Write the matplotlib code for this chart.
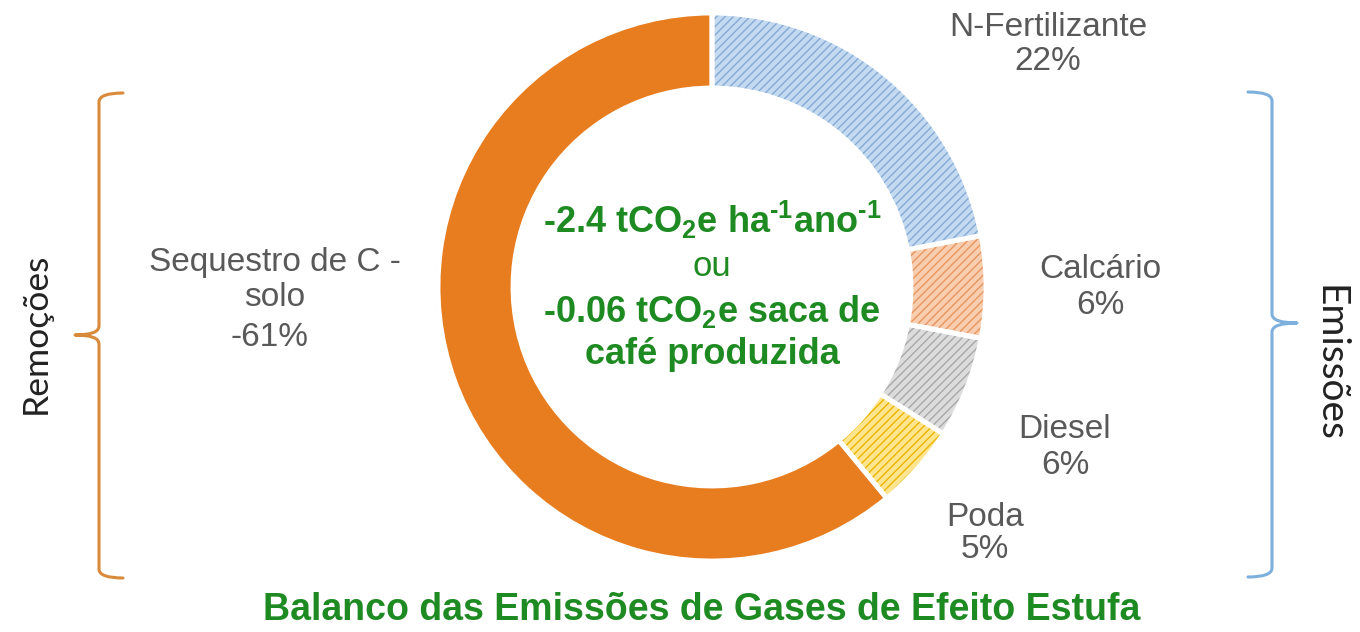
import matplotlib
matplotlib.use("Agg")
import matplotlib.pyplot as plt
from matplotlib.path import Path
from matplotlib.patches import PathPatch

# ---- data ----
categories = ["N-Fertilizante", "Calcário", "Diesel", "Poda", "Sequestro de C -\nsolo"]
shares = [22, 6, 6, 5, 61]
share_labels = ["22%", "6%", "6%", "5%", "-61%"]
center_lines = ["-2.4 tCO$_2$e ha$^{\u20101}$ano$^{\u20101}$", "ou",
                r"-0.06 tCO$_2$e saca de", "café produzida"]
title = "Balanco das Emissões de Gases de Efeito Estufa"
group_left = "Remoções"
group_right = "Emissões"

# ---- style ----
face_colors = ["#C3DAF0", "#F8CDB0", "#DCDCDC", "#FFE58F", "#E87D1F"]
hatch_colors = ["#86AAD6", "#E8965E", "#A8A8A8", "#EDB500", "#E87D1F"]
hatches = ["////", "////", "////", "////", None]
green = "#1E8A22"
grey = "#595959"

plt.rcParams["mathtext.fontset"] = "custom"
plt.rcParams["mathtext.rm"] = "Liberation Sans:bold"
plt.rcParams["mathtext.it"] = "Liberation Sans:bold"
plt.rcParams["mathtext.bf"] = "Liberation Sans:bold"
plt.rcParams["mathtext.default"] = "rm"
plt.rcParams["hatch.linewidth"] = 1.0

W, H = 1360, 632
fig = plt.figure(figsize=(13.6, 6.32), dpi=100)
ax = fig.add_axes([0, 0, 1, 1])

cx, cy, R, ring = 712, H - 287, 274, 75

wedges, _ = ax.pie(shares, startangle=90, counterclock=False, center=(cx, cy),
                   radius=R, wedgeprops=dict(width=ring, linewidth=0))
for w, fc, hc, h in zip(wedges, face_colors, hatch_colors, hatches):
    w.set_facecolor(fc)
    if h:
        w.set_hatch(h)
        w.set_edgecolor(hc)
        w.set_linewidth(0)
    else:
        w.set_edgecolor("#C77A3C")
        w.set_linewidth(2.5)

ax.pie(shares, startangle=90, counterclock=False, center=(cx, cy), radius=R,
       wedgeprops=dict(width=ring, linewidth=3.5, edgecolor="white", facecolor="none"))

ax.set_xlim(0, W)
ax.set_ylim(0, H)
ax.set_aspect("auto")
ax.axis("off")

FS = 24
# category labels (positions in image pixels)
label_pos = [(1048, 28, 62), (1100, 270, 305), (1065, 430, 465), (985, 518, 550), (275, 263, 337)]
for cat, sl, (x, y1, y2) in zip(categories, share_labels, label_pos):
    lines = cat.split("\n")
    ax.text(x, H - y1, lines[0], ha="center", va="center", fontsize=FS,
            color=grey, family="Liberation Sans")
    if len(lines) > 1:
        ax.text(x, H - 298, lines[1], ha="center", va="center", fontsize=FS,
                color=grey, family="Liberation Sans")
    ax.text(x - (5 if len(lines) > 1 else 0), H - y2, sl, ha="center", va="center",
            fontsize=FS, color=grey, family="Liberation Sans")

# centre text
for t, y in zip(center_lines, [220, 267, 311, 354]):
    if t == "ou":
        ax.text(cx, H - y, t, ha="center", va="center", fontsize=25, color=green,
                family="Liberation Sans")
    else:
        ax.text(cx, H - y, t, ha="center", va="center", fontsize=26, color=green,
                family="Liberation Sans", fontweight="bold")

# title
ax.text(702, H - 610, title, ha="center", va="center", fontsize=27, color=green,
        family="Liberation Sans", fontweight="bold")

# braces
def brace(x, x_end, x_tip, y_top, y_bot, y_mid, color):
    r = 9
    verts = [
        (x_end, y_top), (x, y_top), (x, y_top + r),
        (x, y_mid - r),
        (x, y_mid), (x_tip, y_mid),
        (x, y_mid), (x, y_mid + r),
        (x, y_bot - r),
        (x, y_bot), (x_end, y_bot),
    ]
    codes = [Path.MOVETO, Path.CURVE3, Path.CURVE3, Path.LINETO,
             Path.CURVE3, Path.CURVE3, Path.CURVE3, Path.CURVE3,
             Path.LINETO, Path.CURVE3, Path.CURVE3]
    verts = [(vx, H - vy) for vx, vy in verts]
    ax.add_patch(PathPatch(Path(verts, codes), facecolor="none", edgecolor=color,
                           linewidth=2.2, capstyle="round", joinstyle="round"))

brace(99, 123, 75, 93, 578, 335, "#D98A3A")
brace(1272, 1248, 1297, 92, 577, 323, "#7DB0DD")

ax.text(36, H - 333, group_left, rotation=90, ha="center", va="center",
        fontsize=25.5, color="#222222", family="Lato")
ax.text(1330, H - 363, group_right, rotation=270, ha="center", va="center",
        fontsize=28, color="#222222", family="Lato")

fig.savefig("out.png", dpi=100)
